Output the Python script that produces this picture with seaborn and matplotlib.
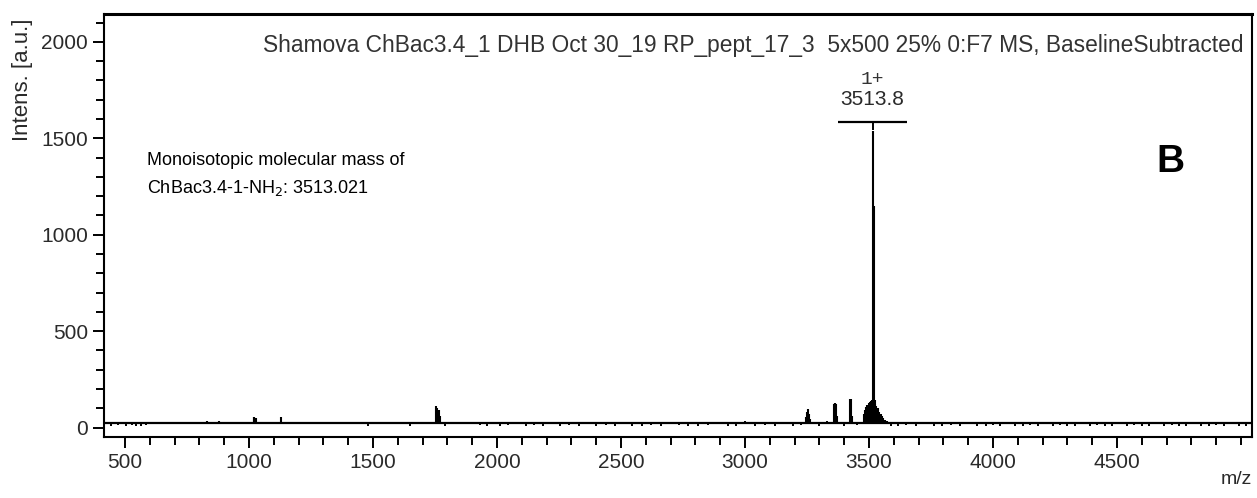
import matplotlib
matplotlib.use("Agg")
import matplotlib.pyplot as plt
import seaborn as sns
import pandas as pd
from matplotlib.ticker import MultipleLocator

# spectrum baseline
base_level = 22
baseline_mz = [415, 5040]
baseline_int = [22, 22]

# peaks (m/z, intensity)
peak_mz = [830, 880, 1018, 1022, 1026, 1030, 1130,
           1754, 1757, 1760, 1764, 1768,
           3246, 3250, 3254, 3258, 3262,
           3358, 3361, 3364, 3367, 3370,
           3424, 3427, 3430,
           3478, 3483, 3488, 3493, 3498, 3503, 3508, 3511,
           3514, 3519, 3522, 3526, 3530, 3534, 3538, 3542,
           3547, 3552, 3558, 3564, 3572]
peak_int = [35, 35, 55, 55, 52, 48, 55,
            110, 100, 92, 90, 60,
            55, 80, 95, 70, 45,
            120, 125, 125, 122, 60,
            150, 148, 60,
            70, 90, 105, 115, 125, 135, 140, 145,
            1540, 1150, 145, 120, 110, 90, 100, 80,
            70, 60, 50, 40, 32]

# baseline noise (m/z, intensity)
noise_mz = [445, 470, 505, 530, 545, 565, 585,
            1480, 1650, 1792, 1930, 1960, 1985, 2010, 2045, 2080, 2115, 2150, 2185,
            2220, 2255, 2290, 2330, 2365, 2400, 2440, 2475, 2510, 2545, 2585, 2620,
            2660, 2700, 2735, 2770, 2810, 2850, 2890, 2930, 2965, 3000, 3040, 3080,
            3120, 3160, 3195, 3225, 3300, 3330, 3400, 3450, 3590, 3615, 3650, 3690,
            3725, 3760, 3795, 3830, 3865, 3900, 3935, 3970, 4000, 4030, 4060, 4090,
            4120, 4150, 4180, 4210, 4240, 4270, 4300, 4330, 4360, 4390, 4420, 4450,
            4480, 4510, 4540, 4570, 4600, 4630, 4660, 4690, 4720, 4750, 4780, 4810,
            4840, 4870, 4900, 4930, 4960, 4990, 5020]
noise_int = [10, 12, 10, 14, 10, 8, 12,
             10, 10, 10, 12, 8, 30, 10, 12, 28, 10, 12, 10,
             30, 10, 12, 8, 28, 10, 12, 10, 30, 8, 10, 12,
             10, 30, 12, 8, 10, 12, 30, 10, 8, 32, 10, 12,
             10, 30, 8, 12, 10, 35, 10, 12, 10, 8, 12, 10,
             30, 10, 8, 12, 10, 28, 10, 8, 12, 10, 30, 8,
             10, 12, 8, 28, 10, 12, 8, 10, 30, 8, 12, 10,
             8, 28, 10, 12, 8, 10, 30, 8, 12, 10, 8, 28,
             10, 8, 12, 10, 30, 8, 10]

x_ticks = [500, 1000, 1500, 2000, 2500, 3000, 3500, 4000, 4500]
y_ticks = [0, 500, 1000, 1500, 2000]

sns.set_style("ticks")
plt.rcParams['font.family'] = ['Liberation Sans', 'DejaVu Sans']

fig = plt.figure(figsize=(12.57, 4.98), dpi=100)
ax = fig.add_axes([0.0827, 0.1225, 0.9133, 0.8495])

sns.lineplot(x=baseline_mz, y=baseline_int, ax=ax, color='black', linewidth=1.6)
ax.vlines(noise_mz, base_level, noise_int, color='black', linewidth=1.4)
ax.vlines(peak_mz, base_level, peak_int, color='black', linewidth=1.5)

ax.set_xlim(415, 5044)
ax.set_ylim(-49, 2145)
ax.set_xticks(x_ticks)
ax.set_yticks(y_ticks)
ax.xaxis.set_minor_locator(MultipleLocator(100))
ax.yaxis.set_minor_locator(MultipleLocator(100))
ax.tick_params(axis='both', which='major', direction='out', length=8, width=1.4,
               labelsize=15, labelcolor='#2a2a2a', color='black')
ax.tick_params(axis='both', which='minor', direction='out', length=6, width=1.4, color='black')
for s in ax.spines.values():
    s.set_visible(True)
    s.set_color('black')
    s.set_linewidth(1.5)
ax.spines['top'].set_linewidth(2.2)

ax.set_xlabel('')
ax.set_ylabel('')
fig.text(0.018, 0.84, 'Intens. [a.u.]', rotation=90, ha='center', va='center',
         fontsize=16, color='#2a2a2a')
fig.text(0.996, 0.02, 'm/z', ha='right', va='bottom', fontsize=14, color='#2a2a2a')

ax.text(0.993, 0.952, 'Shamova ChBac3.4_1 DHB Oct 30_19 RP_pept_17_3  5x500 25% 0:F7 MS, BaselineSubtracted',
        transform=ax.transAxes, ha='right', va='top', fontsize=16.4, color='#333333')

# peak label
ax.text(3514, 1805, '1+', ha='center', va='center', fontsize=14,
        family='Liberation Mono', color='#333333')
ax.text(3514, 1700, '3513.8', ha='center', va='center', fontsize=15, color='#2a2a2a')
ax.hlines(1583, 3375, 3655, color='black', linewidth=1.6)
ax.vlines(3514, 1545, 1583, color='black', linewidth=1.4)

ax.text(590, 1310, 'Monoisotopic molecular mass of\nChBac3.4-1-NH$_2$: 3513.021',
        ha='left', va='center', fontsize=13, color='black', linespacing=1.6)
ax.text(4714, 1377, 'B', ha='center', va='center', fontsize=28, fontweight='bold', color='black')

fig.savefig('out.png', dpi=100)
